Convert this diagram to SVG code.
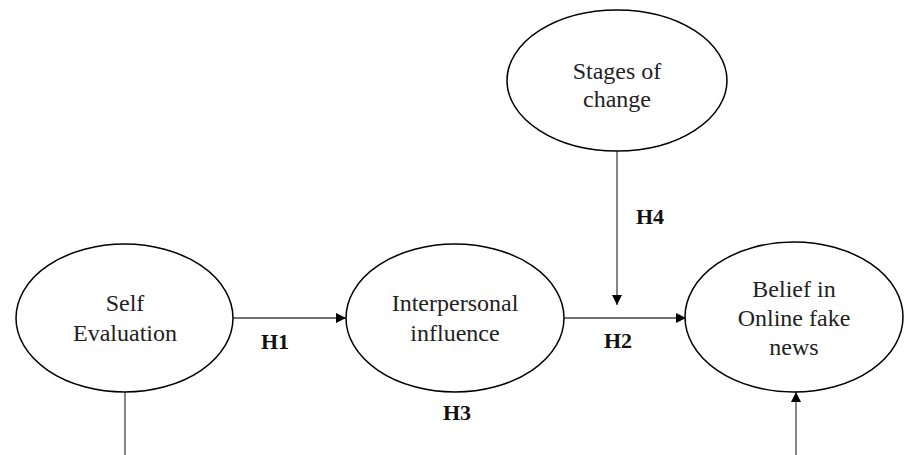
<svg xmlns="http://www.w3.org/2000/svg" width="906" height="455" viewBox="0 0 906 455">
<style>
.n{fill:#fff;stroke:#000;stroke-width:1.5}
.t{font-family:'Liberation Serif','Times New Roman',Times,serif;font-size:24px;fill:#222;text-anchor:middle}
.h{font-family:'Liberation Serif','Times New Roman',Times,serif;font-size:22px;font-weight:bold;fill:#111;text-anchor:middle}
.c{stroke:#444;stroke-width:1.3;fill:none}
</style>
<defs>
<marker id="a" viewBox="0 0 10 10" refX="10" refY="5" markerWidth="10" markerHeight="10" markerUnits="userSpaceOnUse" orient="auto">
<path d="M0,0 L10,5 L0,10 z" fill="#000"/>
</marker>
</defs>
<rect width="906" height="455" fill="#fff"/>
<g id="connectors">
<line class="c" x1="233" y1="318" x2="346" y2="318" marker-end="url(#a)"/>
<line class="c" x1="564" y1="318" x2="686" y2="318" marker-end="url(#a)"/>
<line class="c" x1="617" y1="151" x2="617" y2="305" marker-end="url(#a)"/>
<line class="c" x1="125" y1="392" x2="125" y2="455"/>
<line class="c" x1="796" y1="455" x2="796" y2="392" marker-end="url(#a)"/>
</g>
<g id="self">
<ellipse class="n" cx="124.5" cy="318" rx="108.5" ry="74"/>
<text class="t" x="125" y="311">Self</text>
<text class="t" x="125" y="341">Evaluation</text>
</g>
<g id="interpersonal">
<ellipse class="n" cx="455" cy="318" rx="109" ry="74"/>
<text class="t" x="455" y="311">Interpersonal</text>
<text class="t" x="455" y="341">influence</text>
</g>
<g id="stages">
<ellipse class="n" cx="617" cy="80.5" rx="110" ry="70.5"/>
<text class="t" x="617" y="79">Stages of</text>
<text class="t" x="617" y="107">change</text>
</g>
<g id="belief">
<ellipse class="n" cx="794" cy="317" rx="109" ry="75"/>
<text class="t" x="794" y="297">Belief in</text>
<text class="t" x="794" y="326">Online fake</text>
<text class="t" x="794" y="355">news</text>
</g>
<g id="labels">
<text class="h" x="275" y="349">H1</text>
<text class="h" x="618" y="348">H2</text>
<text class="h" x="457" y="420">H3</text>
<text class="h" x="650" y="224">H4</text>
</g>
</svg>
